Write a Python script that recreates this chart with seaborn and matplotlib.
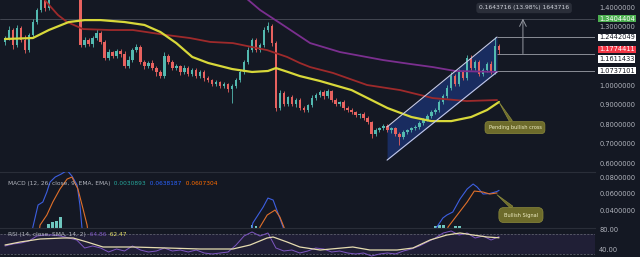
import numpy as np
import pandas as pd
import matplotlib
matplotlib.use("Agg")
import matplotlib.pyplot as plt
import seaborn as sns

# ---------------- data ----------------
closes = [1.241, 1.282, 1.205, 1.292, 1.231, 1.179, 1.256, 1.323, 1.385, 1.436,
          1.395, 1.462, 1.497, 1.467, 1.513, 1.477, 1.508, 1.467, 1.487, 1.205,
          1.231, 1.210, 1.241, 1.267, 1.221, 1.138, 1.169, 1.149, 1.174, 1.159,
          1.097, 1.128, 1.179, 1.195, 1.118, 1.097, 1.113, 1.087, 1.067, 1.046,
          1.149, 1.118, 1.087, 1.097, 1.067, 1.087, 1.056, 1.077, 1.046, 1.067,
          1.036, 1.026, 1.005, 1.015, 0.995, 1.005, 0.979, 0.995, 1.026, 1.067,
          1.118, 1.179, 1.231, 1.179, 1.205, 1.282, 1.303, 1.215, 0.880, 0.960,
          0.905, 0.938, 0.903, 0.923, 0.882, 0.872, 0.897, 0.933, 0.949, 0.964,
          0.944, 0.969, 0.923, 0.903, 0.913, 0.882, 0.872, 0.862, 0.846, 0.851,
          0.831, 0.810, 0.749, 0.769, 0.779, 0.790, 0.769, 0.779, 0.749, 0.733,
          0.759, 0.769, 0.779, 0.785, 0.805, 0.821, 0.841, 0.862, 0.872, 0.913,
          0.944, 0.985, 1.046, 1.005, 1.067, 1.036, 1.138, 1.087, 1.118, 1.056,
          1.077, 1.108, 1.067, 1.200, 1.1774]
first_open = 1.22
wick_hi = [12, 20, 8, 15, 10, 25, 12, 18, 10, 30, 15, 20, 10, 25, 12, 18, 10, 15, 20, 8,
           14, 10, 12, 18, 8, 10, 15, 8, 12, 10, 14, 20, 10, 16, 8, 12, 10, 14, 8, 10,
           18, 8, 12, 10, 8, 14, 10, 8, 12, 10, 8, 10, 6, 12, 8, 10, 6, 8, 10, 12,
           8, 14, 10, 12, 8, 16, 20, 10, 12, 14, 10, 8, 12, 10, 8, 10, 8, 14, 10, 8,
           12, 10, 8, 10, 6, 8, 10, 8, 6, 8, 10, 12, 8, 10, 6, 8, 10, 6, 8, 10,
           8, 6, 8, 10, 8, 12, 10, 8, 10, 12, 8, 14, 20, 10, 16, 12, 18, 14, 10, 8,
           12, 10, 14, 44, 10]
wick_lo = [15, 10, 20, 12, 10, 15, 8, 10, 12, 8, 14, 10, 12, 8, 10, 12, 8, 14, 10, 12,
           10, 8, 14, 10, 12, 10, 8, 12, 10, 14, 10, 8, 12, 10, 8, 14, 10, 12, 20, 10,
           8, 10, 12, 8, 14, 10, 12, 8, 10, 12, 14, 10, 12, 8, 10, 12, 16, 70, 10, 8,
           10, 8, 12, 10, 8, 10, 12, 14, 12, 10, 14, 12, 10, 18, 10, 12, 8, 10, 12, 8,
           14, 10, 12, 8, 10, 12, 8, 10, 12, 14, 10, 12, 20, 10, 8, 12, 10, 14, 10, 41,
           10, 8, 10, 12, 8, 10, 8, 10, 12, 8, 10, 8, 12, 10, 8, 12, 10, 8, 10, 8,
           12, 10, 8, 10, 16]

# moving averages (candle index, price)
ma50_x = [0, 7, 11, 16, 20, 24, 30, 35, 39, 43, 47, 51, 57, 62, 66, 68, 71, 74, 79, 87,
          96, 102, 107, 112, 117, 121, 124]
ma50_v = [1.236, 1.241, 1.282, 1.323, 1.333, 1.333, 1.323, 1.308, 1.272, 1.215, 1.144,
          1.113, 1.082, 1.067, 1.072, 1.087, 1.067, 1.046, 1.021, 0.974, 0.882, 0.836,
          0.815, 0.815, 0.836, 0.872, 0.913]
ma100_x = [9, 11.3, 13.3, 15.6, 19.6, 26.4, 32.1, 40.7, 46.4, 51.5, 57.2, 65.8, 70.8,
           74.0, 76.6, 82.3, 90.9, 99.2, 107.4, 115.9, 123.5]
ma100_v = [1.46, 1.405, 1.359, 1.323, 1.287, 1.282, 1.282, 1.256, 1.241, 1.221, 1.215,
           1.179, 1.144, 1.113, 1.092, 1.062, 1.000, 0.974, 0.933, 0.918, 0.923]
ma200_x = [60.2, 64.0, 69.0, 76.6, 84.1, 94.9, 101.7, 107.4, 113.0, 123.5]
ma200_v = [1.451, 1.385, 1.318, 1.215, 1.169, 1.128, 1.108, 1.092, 1.072, 1.067]

# ascending channel
chan_x = [95.9, 123.5]
chan_upper = [0.785, 1.246]
chan_lower = [0.615, 1.067]

levels = [1.2442049, 1.1611433, 1.0737101]
target = 1.3404404
last_price = 1.1774411
measure_text = "0.1643716 (13.98%) 1643716"

# MACD
macd_seg = [0] * 14 + [1] * 8 + [2] * 13
macd_x = [6.5, 7.0, 8.3, 9.5, 10.5, 11.3, 12.6, 14.1, 15.6, 16.8, 18.1, 18.8, 19.3, 19.8,
          61.5, 62.2, 64.8, 66.0, 67.3, 68.5, 69.8, 70.3,
          106.7, 108.4, 109.9, 110.9, 112.4, 114.2, 116.0, 117.5, 118.5, 120.0, 121.7, 123.5, 124.0]
macd_v = [0.0036, 0.0194, 0.0461, 0.0497, 0.0618, 0.0739, 0.0800, 0.0836, 0.0880, 0.0812,
          0.0703, 0.0461, 0.0194, 0.0036,
          0.0036, 0.0242, 0.0436, 0.0545, 0.0521, 0.0364, 0.0194, 0.0036,
          0.0036, 0.0194, 0.0303, 0.0339, 0.0376, 0.0533, 0.0655, 0.0715, 0.0679, 0.0594,
          0.0600, 0.0625, 0.0638]
sig_seg = [0] * 11 + [1] * 7 + [2] * 8
sig_x = [8.3, 8.8, 10.5, 12.0, 13.8, 15.6, 16.8, 18.3, 19.6, 20.6, 21.1,
         63.3, 64.0, 65.8, 67.8, 69.0, 70.3, 70.8,
         110.4, 111.2, 113.5, 116.0, 117.8, 120.0, 121.7, 123.5]
sig_v = [0.0036, 0.0218, 0.0339, 0.0497, 0.0655, 0.0776, 0.0800, 0.0655, 0.0412, 0.0218, 0.0036,
         0.0036, 0.0194, 0.0339, 0.0400, 0.0315, 0.0158, 0.0036,
         0.0036, 0.0194, 0.0339, 0.0497, 0.0630, 0.0618, 0.0594, 0.0607]
hist_x = [11, 12, 13, 14, 62, 63, 108, 109, 110, 113, 114]
hist_v = [0.0225, 0.0255, 0.0270, 0.0310, 0.0222, 0.0205, 0.0205, 0.0220, 0.0215, 0.0212, 0.0205]

# RSI
rsi_x = list(range(0, 125, 2))
rsi_v = [46, 50, 52, 56, 66, 68, 68, 66, 62, 58, 42, 46, 42, 34, 40, 36, 46, 38, 34, 36,
         42, 36, 38, 34, 38, 32, 30, 32, 34, 48, 66, 74, 66, 72, 42, 36, 38, 32, 36, 42,
         40, 34, 36, 32, 30, 32, 26, 30, 32, 30, 36, 40, 46, 54, 62, 72, 76, 68, 72, 62,
         66, 58, 64.86]
rsima_x = [0, 3.8, 8.8, 14.6, 17.1, 20.6, 24.6, 32.1, 40.7, 49.0, 57.2, 61.5, 65.8, 67.3,
           70.8, 74.0, 79.1, 87.3, 91.6, 98.4, 102.4, 106.7, 110.9, 114.2, 117.5, 121.0, 124]
rsima_v = [48, 54, 60, 62, 62, 54, 44, 44, 42, 40, 40, 48, 62, 64, 54, 44, 38, 44, 38, 38,
           42, 58, 68, 72, 68, 64, 62.47]

# ---------------- style ----------------
BG = "#141823"
TXT = "#b2b5be"
UP = "#53b9b0"
DN = "#e8625f"
sns.set_theme(style="dark", rc={
    "figure.facecolor": BG, "axes.facecolor": BG, "savefig.facecolor": BG,
    "axes.edgecolor": BG, "text.color": TXT, "ytick.color": TXT, "xtick.color": TXT,
    "axes.grid": False,
})
plt.rcParams["font.family"] = ["DejaVu Sans"]

W, H = 640, 257
fig = plt.figure(figsize=(W / 100, H / 100), dpi=100)
axw = 595 / W
ax = fig.add_axes([0, 1 - 172 / H, axw, 172 / H])
axm = fig.add_axes([0, 1 - 228 / H, axw, 56 / H])
axr = fig.add_axes([0, 0, axw, 29 / H])

XL, XR = (0 - 5) / 3.984, (595 - 5) / 3.984
for a in (ax, axm, axr):
    a.set_xlim(XL, XR)
    a.set_xticks([])
    a.yaxis.tick_right()
    a.tick_params(axis="y", length=0, pad=3, labelsize=4.8, colors=TXT)
    for s in a.spines.values():
        s.set_visible(False)
for a in (axm, axr):
    a.spines["top"].set_visible(True)
    a.spines["top"].set_color("#2a2e39")
    a.spines["top"].set_linewidth(0.8)

# ---------------- price pane ----------------
ax.set_ylim(0.554, 1.436)
ax.set_yticks([0.6, 0.7, 0.8, 0.9, 1.0, 1.3, 1.4])
ax.set_yticklabels([f"{v:.7f}" for v in [0.6, 0.7, 0.8, 0.9, 1.0, 1.3, 1.4]])

# channel
ax.fill_between(chan_x, chan_lower, chan_upper, color="#2962ff", alpha=0.28, lw=0, zorder=1)
ax.plot(chan_x, chan_upper, color="#c5cae9", lw=0.8, zorder=4)
ax.plot(chan_x, chan_lower, color="#c5cae9", lw=0.8, zorder=4)

# candles
c = np.array(closes)
o = np.concatenate([[first_open], c[:-1]])
hi = np.maximum(o, c) + np.array(wick_hi) / 1000
lo = np.minimum(o, c) - np.array(wick_lo) / 1000
x = np.arange(len(c))
cols = np.where(c >= o, UP, DN)
ax.vlines(x, lo, hi, colors=cols, lw=0.6, zorder=2)
ax.bar(x, np.maximum(np.abs(c - o), 0.003), bottom=np.minimum(o, c), width=0.62,
       color=cols, linewidth=0, zorder=2)

# moving averages
sns.lineplot(x=ma200_x, y=ma200_v, ax=ax, color="#7b2f8f", lw=1.3, zorder=3)
sns.lineplot(x=ma100_x, y=ma100_v, ax=ax, color="#9e2a2b", lw=1.3, zorder=3)
sns.lineplot(x=ma50_x, y=ma50_v, ax=ax, color="#d8d83a", lw=1.6, zorder=3)

# levels
ax.axhline(target, color="#4a4e59", lw=0.6, zorder=1)
ax.hlines(levels, 123.5, XR, colors="#8a8d96", lw=0.7, zorder=4)
ax.annotate("", xy=(130, target), xytext=(130, levels[1]),
            arrowprops=dict(arrowstyle="->", color="#9598a1", lw=0.7, shrinkA=0, shrinkB=0))
ax.text(130.3, 1.395, measure_text, ha="center", va="center", fontsize=4.3, color="#d1d4dc",
        bbox=dict(boxstyle="round,pad=0.45", fc="#2a2e39", ec="none"), zorder=6)


def side_label(a, y, text, fc, tc, dy=0.0):
    a.annotate(text, xy=(1, y), xycoords=a.get_yaxis_transform(), xytext=(3, dy),
               textcoords="offset points", ha="left", va="center", fontsize=4.8, color=tc,
               bbox=dict(boxstyle="square,pad=0.12", fc=fc, ec="none"),
               annotation_clip=False, zorder=10)


side_label(ax, target, f"{target:.7f}", "#4caf50", "white")
side_label(ax, levels[0], f"{levels[0]:.7f}", "white", "#131722")
side_label(ax, last_price, f"{last_price:.7f}", "#f23645", "white", dy=0.8)
side_label(ax, levels[1], f"{levels[1]:.7f}", "white", "#131722", dy=-3.9)
side_label(ax, levels[2], f"{levels[2]:.7f}", "white", "#131722")

OLIVE = "#6d6b2b"
OLIVE_E = "#8c8a3c"
ax.annotate("Pending bullish cross", xy=(124, 0.912), xytext=(128, 0.782),
            textcoords="data", ha="center", va="center", fontsize=3.6, color="#efeec4",
            bbox=dict(boxstyle="round,pad=0.7", fc=OLIVE, ec=OLIVE_E, lw=0.5),
            arrowprops=dict(arrowstyle="wedge,tail_width=0.6", fc=OLIVE, ec=OLIVE_E, lw=0.5,
                            shrinkA=0, shrinkB=0), zorder=6)

# ---------------- MACD pane ----------------
axm.set_ylim(0.0182, 0.0861)
axm.set_yticks([0.04, 0.06, 0.08])
axm.set_yticklabels([f"{v:.7f}" for v in [0.04, 0.06, 0.08]])
axm.bar(hist_x, hist_v, width=0.7, color="#6fc7bf", linewidth=0, zorder=2)
dm = pd.DataFrame({"x": macd_x, "v": macd_v, "seg": macd_seg})
ds = pd.DataFrame({"x": sig_x, "v": sig_v, "seg": sig_seg})
sns.lineplot(data=dm, x="x", y="v", units="seg", estimator=None, ax=axm,
             color="#3d5fe0", lw=0.8, zorder=3)
sns.lineplot(data=ds, x="x", y="v", units="seg", estimator=None, ax=axm,
             color="#e0702a", lw=0.8, zorder=3)
axm.set_xlim(XL, XR)
FS = 4.2
t = axm.text(8 / 595, 0.80, "MACD (12, 26, close, 9, EMA, EMA)", transform=axm.transAxes,
             va="center", ha="left", fontsize=FS, color=TXT)
t = axm.annotate("  0.0030893", xy=(1, 0.5), xycoords=t, va="center", ha="left",
                 fontsize=FS, color="#26a69a")
t = axm.annotate("  0.0638187", xy=(1, 0.5), xycoords=t, va="center", ha="left",
                 fontsize=FS, color="#2962ff")
t = axm.annotate("  0.0607304", xy=(1, 0.5), xycoords=t, va="center", ha="left",
                 fontsize=FS, color="#ff6d00")
axm.annotate("Bullish Signal", xy=(123.5, 0.0585), xytext=(129.5, 0.0339),
             textcoords="data", ha="center", va="center", fontsize=3.6, color="#efeec4",
             bbox=dict(boxstyle="round,pad=1.0", fc=OLIVE, ec=OLIVE_E, lw=0.5),
             arrowprops=dict(arrowstyle="wedge,tail_width=0.6", fc=OLIVE, ec=OLIVE_E, lw=0.5,
                             shrinkA=0, shrinkB=0), zorder=6)

# ---------------- RSI pane ----------------
axr.set_ylim(24, 82)
axr.set_yticks([40, 80])
axr.set_yticklabels(["40.00", "80.00"])
axr.axhspan(30, 70, color="#7e57c2", alpha=0.12, lw=0, zorder=1)
axr.axhline(70, color="#6a6d78", lw=0.5, ls=(0, (3, 2)), zorder=1)
axr.axhline(30, color="#6a6d78", lw=0.5, ls=(0, (3, 2)), zorder=1)
sns.lineplot(x=rsi_x, y=rsi_v, ax=axr, color="#7e57c2", lw=0.7, zorder=3)
sns.lineplot(x=rsima_x, y=rsima_v, ax=axr, color="#e6dcb0", lw=0.9, zorder=3)
axr.set_xlim(XL, XR)
t = axr.text(8 / 595, 0.78, "RSI (14, close, SMA, 14, 2)", transform=axr.transAxes,
             va="center", ha="left", fontsize=FS, color=TXT)
t = axr.annotate("  64.86", xy=(1, 0.5), xycoords=t, va="center", ha="left",
                 fontsize=FS, color="#7e57c2")
t = axr.annotate("  62.47", xy=(1, 0.5), xycoords=t, va="center", ha="left",
                 fontsize=FS, color="#e9e36b")

for a in (ax, axm, axr):
    a.set_xlabel("")
    a.set_ylabel("")

fig.savefig("out.png", dpi=100, facecolor=BG)
